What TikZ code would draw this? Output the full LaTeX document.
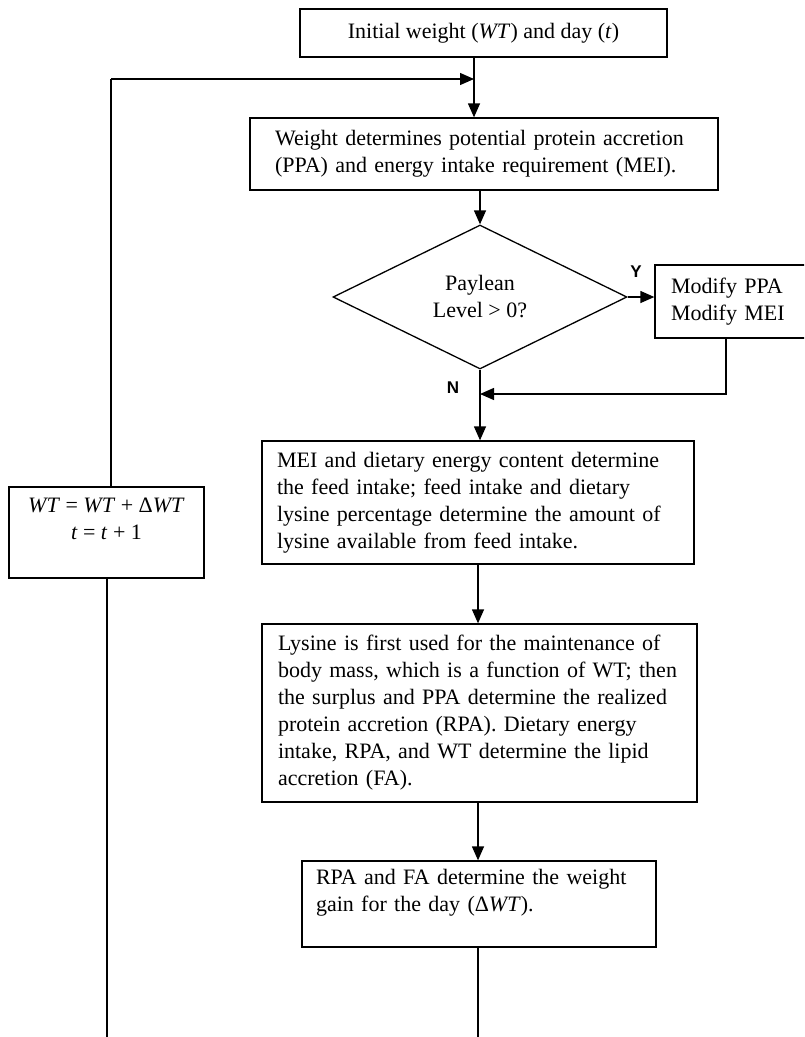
\documentclass[tikz,border=0pt]{standalone}
\usepackage{fontspec}
\setmainfont{Liberation Serif}
\newfontfamily\labfont{Liberation Sans}
\usepackage{tikz}
\usetikzlibrary{arrows.meta,shapes.geometric}

\begin{document}
\begin{tikzpicture}[x=1pt, y=-1pt,
  font=\fontsize{22}{27}\selectfont,
  box/.style={draw, line width=1.3pt, inner sep=0pt},
  txt/.style={box, align=left},
  dec/.style={draw, diamond, line width=1.3pt, inner sep=0pt, align=center},
  yn/.style={font=\labfont\fontsize{17}{20}\selectfont\bfseries},
  ln/.style={line width=1.3pt},
  arr/.style={ln, -{Triangle[length=14pt,width=12pt]}}]
\useasboundingbox (0,0) rectangle (804,1037);
\clip (0,0) rectangle (804,1037);
% boxes of the main column
\node[box, minimum width=367pt, minimum height=48pt] (init) at (483.5,33) {Initial weight (\textit{WT}) and day (\textit{t})};
\node[txt, minimum width=468pt, minimum height=72pt, text width=418pt] (need) at (484,154)
  {Weight determines potential protein accretion\\(PPA) and energy intake requirement (MEI).};
\node[dec, minimum width=294pt, minimum height=144pt] (pay) at (480,297) {Paylean\\Level > 0?};
\node[txt, minimum width=157pt, minimum height=73pt, text width=125pt] (modify) at (733.5,301.5)
  {Modify PPA\\Modify MEI};
\node[txt, minimum width=432pt, minimum height=123pt, text width=402pt] (feed) at (478,502.5)
  {MEI and dietary energy content determine\\the feed intake; feed intake and dietary\\lysine percentage determine the amount of\\lysine available from feed intake.};
\node[txt, minimum width=435pt, minimum height=178pt, text width=403pt] (lys) at (479.5,713)
  {Lysine is first used for the maintenance of\\body mass, which is a function of WT; then\\the surplus and PPA determine the realized\\protein accretion (RPA). Dietary energy\\intake, RPA, and WT determine the lipid\\accretion (FA).};
\node[txt, minimum width=354pt, minimum height=86pt, text width=326pt] (gain) at (479,904)
  {RPA and FA determine the weight\\gain for the day (Δ\textit{WT}).\\\mbox{}};
% update box on the left
\node[box, align=center, minimum width=195pt, minimum height=91pt] (upd) at (106.5,532.5)
  {\textit{WT} = \textit{WT} + Δ\textit{WT}\\\textit{t} = \textit{t} + 1\\\mbox{}};
\node[yn] (ylab) at (636,272) {Y};
\node[yn] (nlab) at (453,388) {N};
% spine points
\coordinate (c1) at (474,0);
\coordinate (c2) at (478,0);
\coordinate (corner) at (111,79);
\coordinate (join) at (726,394);
\coordinate (endL) at (107,1037);
\coordinate (endR) at (478,1037);
% connectors
\draw[arr] (init.south -| c1) -- (need.north -| c1);
\draw[arr] (corner) -- (corner -| c1);
\draw[ln] (upd.north -| corner) -- (corner);
\draw[arr] (need.south -| pay) -- (pay.north);
\draw[arr] (pay.east) -- (pay.east -| modify.west);
\draw[arr] (modify.south -| join) -- (join) -- (join -| pay);
\draw[arr] (pay.south) -- (pay.south |- feed.north);
\draw[arr] (feed.south -| c2) -- (lys.north -| c2);
\draw[arr] (lys.south -| c2) -- (gain.north -| c2);
\draw[ln] (gain.south -| endR) -- (endR);
\draw[ln] (upd.south -| endL) -- (endL);
\end{tikzpicture}
\end{document}
